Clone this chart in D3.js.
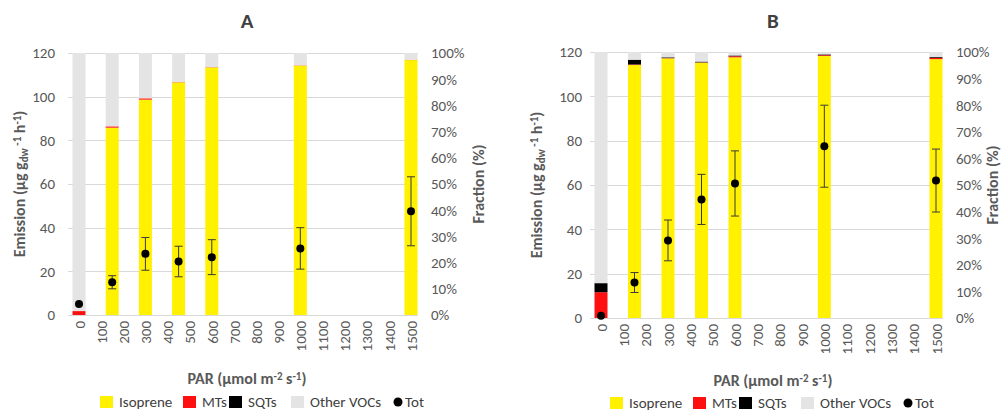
<!DOCTYPE html>
<html>
<head>
<meta charset="utf-8">
<script src="https://cdn.jsdelivr.net/npm/d3@7"></script>
<style>
  body { margin: 0; background: #fff; }
  svg text { font-family: Carlito, Lato, "Open Sans", sans-serif; }
</style>
</head>
<body>
<div id="chart"></div>
<script>
//PAR levels where the bars stand
var parLevels = [0, 150, 300, 450, 600, 1000, 1500];
//tick labels
var parTicks = [0, 100, 200, 300, 400, 500, 600, 700, 800, 900, 1000, 1100, 1200, 1300, 1400, 1500];
var emissionTicks = [0, 20, 40, 60, 80, 100, 120];
var fractionTicks = [0, 10, 20, 30, 40, 50, 60, 70, 80, 90, 100];

//panel A - fractions (%)
var isopreneA = [0, 71.5, 82.2, 88.8, 94.5, 95.2, 97.3];
var mtsA      = [1.5, 0.5, 0.5, 0.1, 0.1, 0.1, 0.1];
var sqtsA     = [0, 0, 0, 0, 0, 0, 0];
var otherA    = [98.5, 28.0, 17.3, 11.1, 5.4, 4.7, 2.6];
//panel A - total emission and error
var totA      = [5.0, 15.0, 28.0, 24.5, 26.5, 30.5, 47.5];
var totErrA   = [0.5, 3.0, 7.5, 7.0, 8.0, 9.5, 15.8];

//panel B - fractions (%)
var isopreneB = [0, 95.1, 97.6, 96.0, 98.0, 98.5, 97.3];
var mtsB      = [9.7, 0.2, 0.1, 0.1, 0.4, 0.3, 0.5];
var sqtsB     = [3.4, 1.8, 0.3, 0.3, 0.3, 0.3, 0.3];
var otherB    = [86.9, 2.9, 2.0, 3.6, 1.3, 0.9, 1.9];
//panel B - total emission and error
var totB      = [1.0, 16.0, 35.0, 53.5, 60.7, 77.5, 62.0];
var totErrB   = [0.5, 4.5, 9.2, 11.3, 14.7, 18.5, 14.2];

var seriesKeys = ["Isoprene", "MTs", "SQTs", "Other VOCs"];
var seriesColors = ["#fff100", "#ff1010", "#000000", "#e4e4e4"];

var svg = d3.select("#chart").append("svg")
    .attr("width", 1003)
    .attr("height", 412);

var textGray = "#595959";

function drawPanel(p) {
    var rows = parLevels.map(function(par, i) {
        return {par: par, "Isoprene": p.iso[i], "MTs": p.mts[i], "SQTs": p.sqts[i], "Other VOCs": p.other[i],
                tot: p.tot[i], err: p.err[i]};
    });

    var x = d3.scaleLinear().domain([0, 1500]).range([p.left + 11, p.right - 7]);
    var yLeft = d3.scaleLinear().domain([0, 120]).range([p.bottom, p.top]);
    var yRight = d3.scaleLinear().domain([0, 100]).range([p.bottom, p.top]);

    var g = svg.append("g");

    //title
    g.append("text")
        .attr("x", p.titleX)
        .attr("y", 28)
        .attr("text-anchor", "middle")
        .attr("font-size", "21px")
        .attr("font-weight", "bold")
        .attr("fill", "#404040")
        .text(p.title);

    //gridlines
    g.selectAll(".grid")
        .data(emissionTicks)
        .enter()
        .append("line")
        .attr("x1", p.left)
        .attr("x2", p.right)
        .attr("y1", function(d) { return Math.round(yLeft(d)) + 0.5; })
        .attr("y2", function(d) { return Math.round(yLeft(d)) + 0.5; })
        .attr("stroke", "#d9d9d9")
        .attr("stroke-width", 1);

    //stacked fraction bars
    var stack = d3.stack().keys(seriesKeys)(rows);
    var barW = 13;
    stack.forEach(function(layer, li) {
        g.selectAll(".bar" + li)
            .data(layer)
            .enter()
            .append("rect")
            .attr("x", function(d) { return x(d.data.par) - barW / 2; })
            .attr("width", barW)
            .attr("y", function(d) { return yRight(d[1]); })
            .attr("height", function(d) { return yRight(d[0]) - yRight(d[1]); })
            .attr("fill", seriesColors[li]);
    });

    //left axis
    var leftAxis = d3.axisLeft(yLeft).tickValues(emissionTicks).tickSize(0).tickPadding(p.leftPad);
    var la = g.append("g").attr("transform", "translate(" + p.left + ",0)").call(leftAxis);
    la.select(".domain").remove();
    la.selectAll("text").attr("font-size", "15px").attr("fill", textGray).attr("font-family", null);

    //right axis
    var rightAxis = d3.axisRight(yRight).tickValues(fractionTicks).tickSize(0).tickPadding(13)
        .tickFormat(function(d) { return d + "%"; });
    var ra = g.append("g").attr("transform", "translate(" + p.right + ",0)").call(rightAxis);
    ra.select(".domain").remove();
    ra.selectAll("text").attr("font-size", "15px").attr("fill", textGray).attr("font-family", null);

    //bottom axis with rotated labels
    var bottomAxis = d3.axisBottom(x).tickValues(parTicks).tickSize(0).tickFormat(d3.format("d"));
    var ba = g.append("g").attr("transform", "translate(0," + p.bottom + ")").call(bottomAxis);
    ba.select(".domain").remove();
    ba.selectAll("text")
        .attr("font-size", "15px")
        .attr("fill", textGray)
        .attr("font-family", null)
        .attr("text-anchor", "end")
        .attr("transform", "rotate(-90)")
        .attr("x", -6)
        .attr("y", 0)
        .attr("dy", "0.35em");

    //error bars for total
    var errG = g.append("g");
    errG.selectAll(".err")
        .data(rows)
        .enter()
        .append("line")
        .attr("x1", function(d) { return x(d.par); })
        .attr("x2", function(d) { return x(d.par); })
        .attr("y1", function(d) { return yLeft(d.tot - d.err); })
        .attr("y2", function(d) { return yLeft(d.tot + d.err); })
        .attr("stroke", "#3a3a3a")
        .attr("stroke-width", 1);
    [-1, 1].forEach(function(s) {
        errG.selectAll(".cap" + s)
            .data(rows.filter(function(d) { return d.err > 1; }))
            .enter()
            .append("line")
            .attr("x1", function(d) { return x(d.par) - 4; })
            .attr("x2", function(d) { return x(d.par) + 4; })
            .attr("y1", function(d) { return yLeft(d.tot + s * d.err); })
            .attr("y2", function(d) { return yLeft(d.tot + s * d.err); })
            .attr("stroke", "#3a3a3a")
            .attr("stroke-width", 1);
    });

    //total points
    g.selectAll(".tot")
        .data(rows)
        .enter()
        .append("circle")
        .attr("cx", function(d) { return x(d.par); })
        .attr("cy", function(d) { return yLeft(d.tot); })
        .attr("r", 4)
        .attr("fill", "#000");

    //left axis title
    var cy = (p.top + p.bottom) / 2;
    var lt = g.append("text")
        .attr("transform", "translate(" + p.leftTitleX + "," + cy + ") rotate(-90)")
        .attr("text-anchor", "middle")
        .attr("font-size", "16px")
        .attr("font-weight", "bold")
        .attr("fill", textGray);
    lt.append("tspan").text("Emission (µg g");
    lt.append("tspan").attr("baseline-shift", "-30%").attr("font-size", "11px").text("dw");
    lt.append("tspan").attr("baseline-shift", "40%").attr("font-size", "11px").text(" -1");
    lt.append("tspan").text(" h");
    lt.append("tspan").attr("baseline-shift", "40%").attr("font-size", "11px").text("-1");
    lt.append("tspan").text(")");

    //right axis title
    g.append("text")
        .attr("transform", "translate(" + p.rightTitleX + "," + cy + ") rotate(-90)")
        .attr("text-anchor", "middle")
        .attr("font-size", "16px")
        .attr("font-weight", "bold")
        .attr("fill", textGray)
        .text("Fraction (%)");

    //x axis title
    var xt = g.append("text")
        .attr("x", p.titleX)
        .attr("y", p.xTitleY)
        .attr("text-anchor", "middle")
        .attr("font-size", "16px")
        .attr("font-weight", "bold")
        .attr("fill", textGray);
    xt.append("tspan").text("PAR (µmol m");
    xt.append("tspan").attr("baseline-shift", "40%").attr("font-size", "11px").text("-2");
    xt.append("tspan").text(" s");
    xt.append("tspan").attr("baseline-shift", "40%").attr("font-size", "11px").text("-1");
    xt.append("tspan").text(")");

    //legend
    var offsets = [0, 83, 129, 191, 294];
    var legendItems = seriesKeys.concat(["Tot"]);
    legendItems.forEach(function(name, i) {
        var lx = p.legendX + offsets[i];
        if (name === "Tot") {
            g.append("circle")
                .attr("cx", lx + 4)
                .attr("cy", p.legendY)
                .attr("r", 4.5)
                .attr("fill", "#000");
            g.append("text")
                .attr("x", lx + 11)
                .attr("y", p.legendY + 5)
                .attr("font-size", "15px")
                .attr("fill", "#404040")
                .text(name);
        } else {
            g.append("rect")
                .attr("x", lx)
                .attr("y", p.legendY - 6)
                .attr("width", 13)
                .attr("height", 12)
                .attr("fill", seriesColors[i]);
            g.append("text")
                .attr("x", lx + 19)
                .attr("y", p.legendY + 5)
                .attr("font-size", "15px")
                .attr("fill", "#404040")
                .text(name);
        }
    });
}

drawPanel({
    title: "A", titleX: 247,
    left: 68, right: 418, top: 53, bottom: 315, leftPad: 13,
    leftTitleX: 25, rightTitleX: 484, xTitleY: 384,
    legendX: 100, legendY: 402,
    iso: isopreneA, mts: mtsA, sqts: sqtsA, other: otherA, tot: totA, err: totErrA
});

drawPanel({
    title: "B", titleX: 773,
    left: 590, right: 943, top: 52, bottom: 318, leftPad: 8,
    leftTitleX: 542, rightTitleX: 998, xTitleY: 386,
    legendX: 610, legendY: 403,
    iso: isopreneB, mts: mtsB, sqts: sqtsB, other: otherB, tot: totB, err: totErrB
});
</script>
</body>
</html>
